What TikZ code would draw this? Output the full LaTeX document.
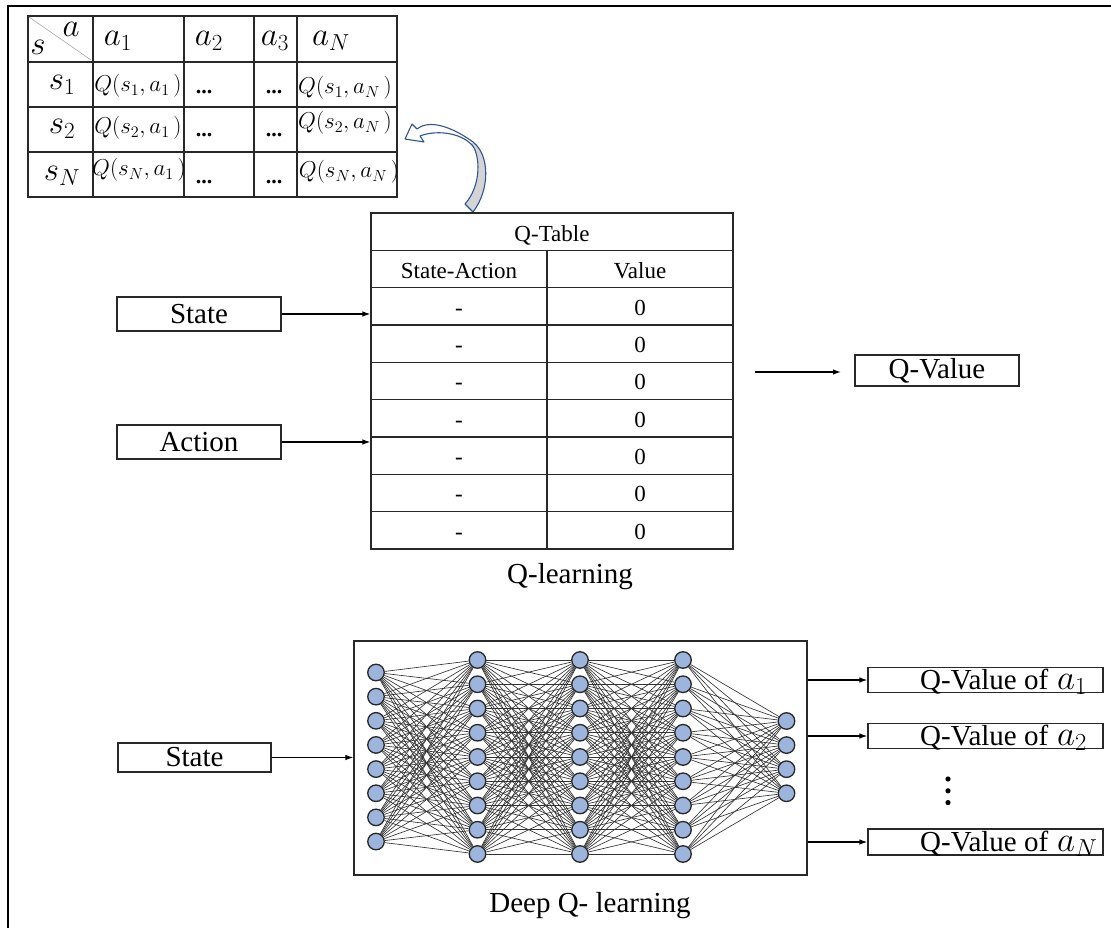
\RequirePackage{fix-cm}
\documentclass[tikz,border=0pt]{standalone}
\usepackage{fontspec}
\setmainfont{Liberation Serif}
\usetikzlibrary{arrows.meta}
\definecolor{neuronfill}{RGB}{157,180,220}
\definecolor{arrowblue}{RGB}{47,85,151}
\definecolor{arrowgray}{RGB}{212,212,212}
\definecolor{linegray}{RGB}{40,40,40}
\tikzset{
  lbl/.style={font=\fontsize{29}{34}\selectfont, inner sep=0pt},
  inbox/.style={draw=linegray, line width=1.2pt, inner sep=0pt, font=\fontsize{29}{34}\selectfont},
  tab/.style={draw=linegray, line width=1.2pt},
  ttxt/.style={font=\fontsize{23}{27}\selectfont, inner sep=0pt, text height=16pt, text depth=0pt},
  mh/.style={font=\fontsize{33}{38}\selectfont, inner sep=0pt},
  mq/.style={font=\fontsize{23}{27}\selectfont, inner sep=0pt},
  dotsn/.style={font=\fontsize{22}{26}\selectfont\bfseries, inner sep=0pt, anchor=base},
  conn/.style={draw=black, line width=1.2pt, -{Latex[length=8pt,width=5.5pt]}},
  neuron/.style={circle, draw=linegray, fill=neuronfill, line width=1.3pt, minimum size=16.5pt, inner sep=0pt},
  syn/.style={draw=black!80, line width=0.65pt},
  carrow/.style={draw=arrowblue, line width=1.1pt, line join=round},
}
\def\myarrowpath{(473,212) .. controls (490,190) and (490,155) .. (473,142)
  .. controls (459,131.6) and (432,117) .. (417,129) -- (412,124) -- (405,139) -- (424,142) -- (420,136)
  .. controls (435,130) and (460,132) .. (472,145)
  .. controls (480,154) and (482,185) .. (465,204) -- cycle}
\begin{document}
\begin{tikzpicture}[x=1pt,y=-1pt]
\useasboundingbox (0,0) rectangle (1111,928);
% outer frame (partially visible)
\draw[black, line width=1.5pt] (8,928) -- (8,6) -- (1111,6);

% ---------- small Q table ----------
\draw[tab] (28,16) rectangle (397,197);
\foreach \x in {93,184,254,297} \draw[tab] (\x,16) -- (\x,197);
\foreach \y in {62,107,152} \draw[tab] (28,\y) -- (397,\y);
\draw[gray!70, line width=0.6pt] (29,17) -- (91,60);
\node[mh] (ha) at (71,29) {$a$};
\node[mh] (hs) at (38,47) {$s$};
\node[mh] (h1) at (118,41) {$a_1$};
\node[mh] (h2) at (209,41) {$a_2$};
\node[mh] (h3) at (275,41) {$a_3$};
\node[mh] (h4) at (331,41) {$a_N$};
\node[mh] (s1) at (62,85) {$s_1$};
\node[mh] (s2) at (62,129) {$s_2$};
\node[mh] (sN) at (62,176) {$s_N$};
\node[mq] (q11) at (138,86) {$Q(s_1,a_1\,)$};
\node[mq] (q1N) at (345,88) {$Q(s_1,a_N\,)$};
\node[mq] (q21) at (138,128) {$Q(s_2,a_1\,)$};
\node[mq] (q2N) at (345,123) {$Q(s_2,a_N\,)$};
\node[mq] (qN1) at (139,170) {$Q(s_N,a_1\,)$};
\node[mq] (qNN) at (349,172) {$Q(s_N,a_N\,)$};
\node[dotsn] (d11) at (204,94) {...};
\node[dotsn] (d12) at (274,94) {...};
\node[dotsn] (d21) at (204,137) {...};
\node[dotsn] (d22) at (274,137) {...};
\node[dotsn] (d31) at (204,184) {...};
\node[dotsn] (d32) at (274,184) {...};

% ---------- curved block arrow ----------
\fill[white] \myarrowpath;
\begin{scope}
  \clip (455,143.5) rectangle (500,216);
  \fill[arrowgray] \myarrowpath;
\end{scope}
\draw[carrow] \myarrowpath;

% ---------- Q-learning table ----------
\node[tab, minimum width=362pt, minimum height=336pt, inner sep=0pt] (qt) at (552,381) {};
\foreach \k in {1,...,8} \draw[tab] (371,{213+37.333*\k}) -- (733,{213+37.333*\k});
\draw[tab] (547,250.33) -- (547,549);
\node[ttxt] (qtt) at (552,233) {Q-Table};
\node[ttxt] (qsa) at (459,270) {State-Action};
\node[ttxt] (qva) at (640,270) {Value};
\foreach \k in {0,...,6} {
  \node[ttxt] (dash\k) at (459,{307+37.333*\k}) {-};
  \node[ttxt] (zero\k) at (640,{307+37.333*\k}) {0};
}
\node[inbox, minimum width=164pt, minimum height=34pt] (st1) at (199,314) {State};
\node[inbox, minimum width=164pt, minimum height=34pt] (ac1) at (199,442) {Action};
\node[inbox, minimum width=164pt, minimum height=31pt] (qv) at (937,370.5) {Q-Value};
\draw[conn] (st1) -- (st1 -| qt.west);
\draw[conn] (ac1) -- (ac1 -| qt.west);
\coordinate (qvs) at (755,372);
\coordinate (qve) at (841,372);
\draw[conn] (qvs) -- (qve);
\node[lbl] (qlearn) at (570,577) {Q-learning};

% ---------- Deep Q network ----------
\node[draw=linegray, line width=1.2pt, minimum width=453pt, minimum height=234pt, inner sep=0pt] (nnbox) at (580.5,758) {};
\foreach \i in {1,...,8} \node[neuron] (A\i) at (376,{672.5+24.15*(\i-1)}) {};
\foreach \i in {1,...,9} {
  \node[neuron] (B\i) at (477.5,{660+24.25*(\i-1)}) {};
  \node[neuron] (C\i) at (580,{660+24.25*(\i-1)}) {};
  \node[neuron] (D\i) at (683,{660+24.25*(\i-1)}) {};
}
\foreach \i in {1,...,4} \node[neuron] (E\i) at (786.5,{721+24.1*(\i-1)}) {};
\foreach \i in {1,...,8} \foreach \j in {1,...,9} \draw[syn] (A\i) -- (B\j);
\foreach \i in {1,...,9} \foreach \j in {1,...,9} {
  \draw[syn] (B\i) -- (C\j);
  \draw[syn] (C\i) -- (D\j);
}
\foreach \i in {1,...,9} \foreach \j in {1,...,4} \draw[syn] (D\i) -- (E\j);

\node[inbox, minimum width=153pt, minimum height=29pt] (st2) at (194.5,757.5) {State};
\draw[conn] (st2) -- (st2 -| nnbox.west);

\node[inbox, minimum width=235pt, minimum height=25pt] (o1) at (985.5,680) {};
\node[inbox, minimum width=235pt, minimum height=25pt] (o2) at (985.5,736) {};
\node[inbox, minimum width=235pt, minimum height=26pt] (o3) at (985.5,842) {};
\node[lbl, anchor=base west] (o1t) at (920,689.5) {Q-Value of\hspace{9pt}{\fontsize{35}{38}\selectfont$a_1$}};
\node[lbl, anchor=base west] (o2t) at (920,745.5) {Q-Value of\hspace{9pt}{\fontsize{35}{38}\selectfont$a_2$}};
\node[lbl, anchor=base west] (o3t) at (920,851.5) {Q-Value of\hspace{9pt}{\fontsize{35}{38}\selectfont$a_N$}};
\draw[conn] (nnbox.east |- o1) -- (o1.west);
\draw[conn] (nnbox.east |- o2) -- (o2.west);
\draw[conn] (nnbox.east |- o3) -- (o3.west);
\foreach \k in {0,1,2} \fill[black] (948,{779+11.8*\k}) circle (2.6pt);
\node[lbl] (dql) at (590,906) {Deep Q- learning};
\end{tikzpicture}
\end{document}
